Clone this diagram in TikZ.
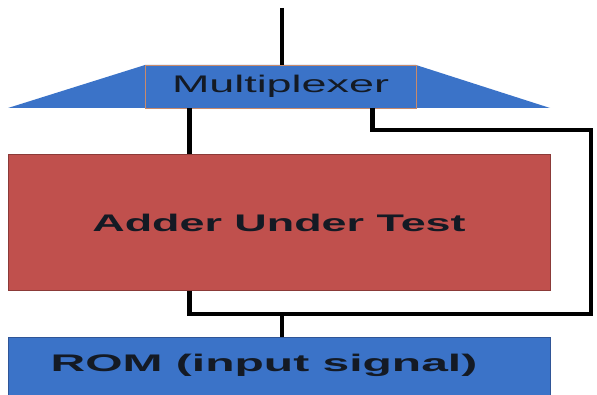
\documentclass[tikz,border=0pt]{standalone}
\usepackage{fontspec}
\setmainfont{Liberation Sans}
\usepackage{graphicx}
\definecolor{muxblue}{HTML}{3B73C8}
\definecolor{muxedge}{HTML}{C98A6A}
\definecolor{autred}{HTML}{C0504D}
\definecolor{autedge}{HTML}{8B3A38}
\definecolor{romedge}{HTML}{2F5597}
\definecolor{labelink}{HTML}{141A24}
\newcommand{\widetext}[2]{\scalebox{#1}[1]{#2}}
\tikzset{
  wire/.style = {line width = 4.5pt, black},
  block/.style = {draw, line width = 1pt, minimum width = 542pt, inner sep = 0pt, text = labelink}
}

\begin{document}
\begin{tikzpicture}[x = 1pt, y = 1pt]
			\useasboundingbox (0,0) rectangle (597,394);
			\fill[white] (0,0) rectangle (597,394);
			
			% multiplexer: trapezoid with a labelled middle part
			\fill[muxblue] (8,286) -- (145,329) -- (416,329) -- (550,286) -- cycle;
			\node[draw = muxedge, line width = 0.8pt, fill = muxblue, text = labelink,
				minimum width = 271pt, minimum height = 43pt, inner sep = 0pt,
				font = \fontsize{24}{26}\selectfont] (mux) at (280.5,307.5) {\widetext{1.87}{Multiplexer}};
			
			\node[block, draw = autedge, fill = autred, minimum height = 135pt,
				font = \fontsize{24}{26}\bfseries] (adder) at (279,171.5) {\widetext{1.87}{Adder Under Test}};
			\node[block, draw = romedge, fill = muxblue, minimum height = 62pt] (rom) at (279,26) {};
			\node[text = labelink, font = \fontsize{24}{26}\bfseries] (romtext) at (264,29) {\widetext{2.0}{ROM (input signal)}};
			
			\coordinate (in) at (282,386);
			\coordinate (fb) at (591,264);
			\coordinate (join) at (282,80);
			
			\draw[wire] (in) -- (in |- mux.north);
			\draw[wire] ([xshift = 45pt]mux.south west) -- ([xshift = 45pt]mux.south west |- adder.north);
			\draw[wire] ([xshift = -44pt]mux.south east) |- (fb) |- (join)
				-| ([xshift = 45pt]mux.south west |- adder.south);
			\draw[wire] (join) -- (join |- rom.north);
		\end{tikzpicture}
\end{document}
